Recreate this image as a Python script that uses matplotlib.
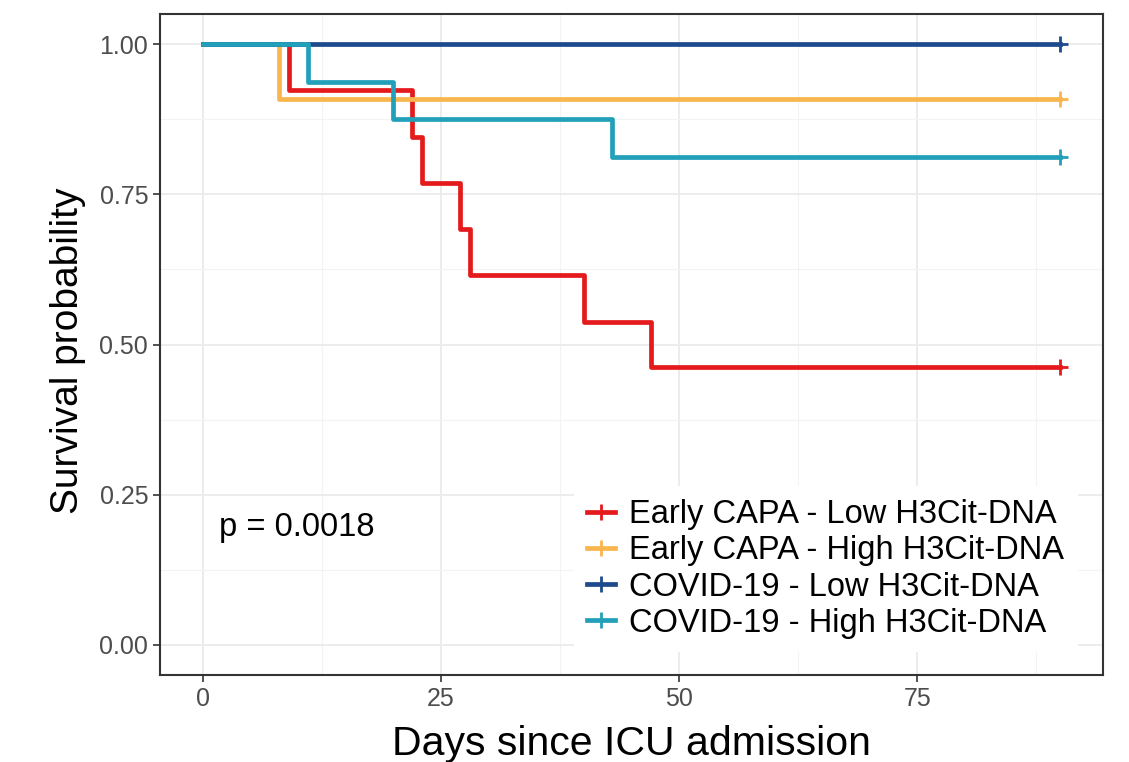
import matplotlib
matplotlib.use("Agg")
import matplotlib.pyplot as plt
from matplotlib.lines import Line2D

plt.rcParams['font.family'] = ['Liberation Sans', 'DejaVu Sans']

# Kaplan-Meier step data (time of event, survival after event)
groups = ["Early CAPA - Low H3Cit-DNA", "Early CAPA - High H3Cit-DNA",
          "COVID-19 - Low H3Cit-DNA", "COVID-19 - High H3Cit-DNA"]
colors = ["#E41A1C", "#F9B64C", "#1D4A8C", "#22A0B9"]

t_early_low = [0, 9, 22, 23, 27, 28, 40, 47, 90]
s_early_low = [1.0, 0.923, 0.846, 0.769, 0.692, 0.615, 0.538, 0.462, 0.462]

t_early_high = [0, 8, 90]
s_early_high = [1.0, 0.909, 0.909]

t_covid_low = [0, 90]
s_covid_low = [1.0, 1.0]

t_covid_high = [0, 11, 20, 43, 90]
s_covid_high = [1.0, 0.9375, 0.875, 0.8125, 0.8125]

times = [t_early_low, t_early_high, t_covid_low, t_covid_high]
survs = [s_early_low, s_early_high, s_covid_low, s_covid_high]

x_ticks = [0, 25, 50, 75]
y_ticks = [0.0, 0.25, 0.5, 0.75, 1.0]
y_ticklabels = ["0.00", "0.25", "0.50", "0.75", "1.00"]
p_text = "p = 0.0018"

fig = plt.figure(figsize=(11.29, 7.62), dpi=100)
ax = fig.add_axes([160/1129, 1-675/762, 943/1129, 661/762])

for t, s, c in zip(times, survs, colors):
    ax.step(t, s, where='post', color=c, lw=3.4, zorder=3)
    ax.plot([t[-1]], [s[-1]], marker='+', color=c, ms=11, mew=2, zorder=4)

ax.set_xlim(-4.5, 94.5)
ax.set_ylim(-0.05, 1.05)
ax.set_xticks(x_ticks)
ax.set_yticks(y_ticks)
ax.set_yticklabels(y_ticklabels)
ax.set_xticks([12.5, 37.5, 62.5, 87.5], minor=True)
ax.set_yticks([0.125, 0.375, 0.625, 0.875], minor=True)
ax.grid(which='major', color='#EBEBEB', lw=1.3, zorder=0)
ax.grid(which='minor', color='#F3F3F3', lw=0.8, zorder=0)
ax.tick_params(which='minor', length=0)
ax.tick_params(which='major', length=5, width=1.2, color='#333333',
               labelsize=18, labelcolor='#4D4D4D')
for sp in ax.spines.values():
    sp.set_color('#333333')
    sp.set_linewidth(1.5)

ax.set_xlabel("Days since ICU admission", fontsize=29.5, labelpad=10)
ax.set_ylabel("Survival probability", fontsize=28)
ax.yaxis.set_label_coords(-0.078, 0.49)

ax.text(1.7, 0.195, p_text, fontsize=23.5, ha='left', va='center')

handles = [Line2D([0], [0], color=c, lw=3.4, marker='+', ms=11, mew=2) for c in colors]
leg = ax.legend(handles, groups, loc='lower right', bbox_to_anchor=(0.973, 0.035),
                fontsize=23.5, frameon=True, fancybox=False, edgecolor='none',
                facecolor='white', framealpha=1, handlelength=0.85,
                handletextpad=0.45, labelspacing=0.16, borderaxespad=0,
                borderpad=0.4)
leg.set_zorder(5)

fig.savefig("out.png", dpi=100)
